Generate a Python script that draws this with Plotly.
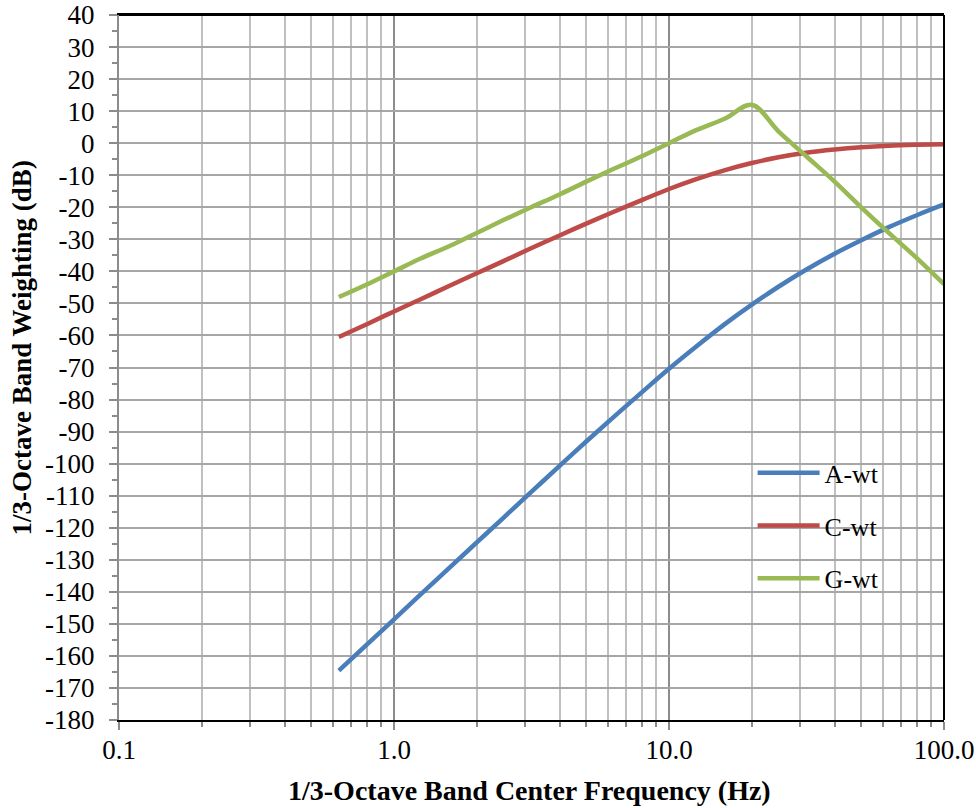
import plotly.graph_objects as go

freq = [0.63, 0.8, 1.0, 1.25, 1.6, 2.0, 2.5, 3.15, 4.0, 5.0, 6.3, 8.0, 10.0,
        12.5, 16.0, 20.0, 25.0, 31.5, 40.0, 50.0, 63.0, 80.0, 100.0]
a_wt = [-164.6, -156.3, -148.6, -140.8, -132.3, -124.6, -116.9, -108.9, -100.7,
        -93.1, -85.4, -77.6, -70.4, -63.6, -56.4, -50.4, -44.8, -39.5, -34.5,
        -30.3, -26.2, -22.4, -19.1]
c_wt = [-60.5, -56.4, -52.5, -48.7, -44.4, -40.6, -36.8, -32.8, -28.8, -25.1,
        -21.4, -17.7, -14.3, -11.3, -8.4, -6.2, -4.4, -3.0, -2.0, -1.3, -0.8,
        -0.5, -0.3]
g_wt = [-48.0, -44.0, -40.0, -36.0, -32.0, -28.0, -24.0, -20.0, -16.0, -12.0,
        -8.0, -4.0, 0.0, 4.0, 7.7, 12.0, 3.7, -4.0, -12.0, -20.0, -28.0, -36.0,
        -44.0]

y_ticks = list(range(-180, 41, 10))
y_tick_text = [str(v) for v in y_ticks]
x_ticks = [0.1, 1.0, 10.0, 100.0]
x_tick_text = ["0.1", "1.0", "10.0", "100.0"]

series = [("A-wt", a_wt, "#4A7EBB"), ("C-wt", c_wt, "#BE4B48"), ("G-wt", g_wt, "#98B954")]

FONT = "Liberation Serif"
fig = go.Figure()
for name, vals, col in series:
    fig.add_trace(go.Scatter(x=freq, y=vals, name=name, mode="lines",
                             legendgroup=name,
                             line=dict(color=col, width=4.5, shape="spline", smoothing=1.0)))

fig.update_layout(
    width=976, height=808,
    margin=dict(l=119, r=32, t=15, b=88),
    paper_bgcolor="white", plot_bgcolor="white",
    font=dict(family=FONT, size=27, color="black"),
    showlegend=True,
    legend=dict(x=0.768, y=0.384, xanchor="left", yanchor="top",
                bgcolor="rgba(0,0,0,0)", font=dict(family=FONT, size=26),
                tracegroupgap=16, itemwidth=62),
    xaxis=dict(type="log", range=[-1, 2], tickmode="array", tickvals=x_ticks,
               ticktext=x_tick_text, automargin=False, ticklabeloverflow="allow",
               showgrid=True, gridcolor="#8C8C8C", gridwidth=1.5,
               ticks="outside", ticklen=8, tickcolor="#8C8C8C", tickwidth=1.5,
               ticklabelstandoff=-3,
               showline=True, linecolor="black", linewidth=2, mirror=True,
               minor=dict(tickmode="linear", dtick="D1", showgrid=True, gridcolor="#C0C0C0", gridwidth=1.5,
                          ticks="outside", ticklen=5, tickcolor="#8C8C8C", tickwidth=1.5),
               zeroline=False),
    yaxis=dict(range=[-180, 40], tickmode="array", tickvals=y_ticks,
               ticktext=y_tick_text, automargin=False, ticklabeloverflow="allow",
               showgrid=True, gridcolor="#A6A6A6", gridwidth=1.5,
               ticks="outside", ticklen=8, tickcolor="#8C8C8C", tickwidth=1.5,
               ticklabelstandoff=9,
               showline=True, linecolor="#8C8C8C", linewidth=2,
               minor=dict(tickmode="linear", tick0=-180, dtick=5, ticks="outside", ticklen=5,
                          tickcolor="#8C8C8C", tickwidth=1.5, showgrid=False),
               zeroline=False),
)
fig.add_annotation(text="<b>1/3-Octave Band Center Frequency (Hz)</b>",
                   xref="paper", yref="paper", x=0.497, y=-0.0995,
                   xanchor="center", yanchor="middle", showarrow=False,
                   font=dict(family=FONT, size=28))
fig.add_annotation(text="<b>1/3-Octave Band Weighting (dB)</b>",
                   xref="paper", yref="paper", x=-0.118, y=0.528,
                   xanchor="center", yanchor="middle", showarrow=False,
                   textangle=-90, font=dict(family=FONT, size=27))
fig.add_shape(type="line", xref="paper", yref="paper", x0=1, x1=1, y0=0, y1=1,
              line=dict(color="black", width=2))
fig.add_shape(type="line", xref="paper", yref="paper", x0=0, x1=1, y0=1, y1=1,
              line=dict(color="black", width=2))

fig.write_html("out.html", config={"displayModeBar": False},
               post_script="document.body.style.margin='0';document.body.style.overflow='hidden';")
